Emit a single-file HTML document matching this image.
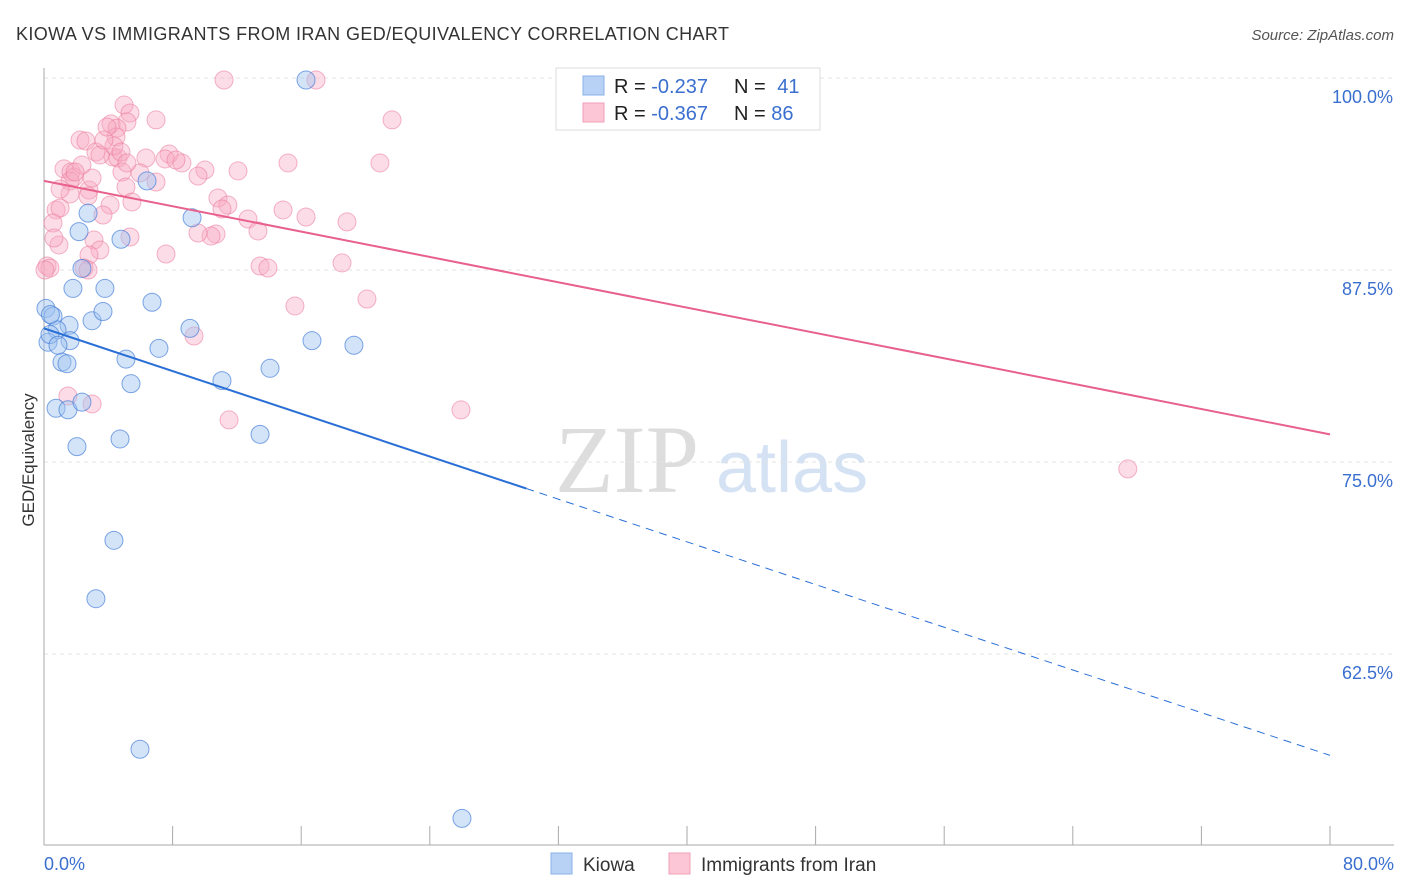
<!DOCTYPE html>
<html><head><meta charset="utf-8"><style>
body{margin:0;background:#fff;font-family:"Liberation Sans",sans-serif;}
#wrap{position:relative;width:1406px;height:892px;overflow:hidden;}
</style></head><body>
<div id="wrap">
<svg id="svg" width="1406" height="892" xmlns="http://www.w3.org/2000/svg">
<text x="16" y="40" font-size="18" fill="#333" textLength="713" lengthAdjust="spacing">KIOWA VS IMMIGRANTS FROM IRAN GED/EQUIVALENCY CORRELATION CHART</text>
<text x="1394" y="40" font-size="15" fill="#555" font-style="italic" text-anchor="end">Source: ZipAtlas.com</text>
<text x="34" y="460" font-size="17" fill="#333" text-anchor="middle" transform="rotate(-90 34 460)">GED/Equivalency</text>
<text x="555" y="492" font-size="96" fill="#ddd" font-family="Liberation Serif,serif">ZIP</text>
<text x="716" y="492" font-size="72" fill="#d4e2f4">atlas</text>
<g id="grid"></g><g id="pts"></g><g id="lines"></g>
<g>
<rect x="556" y="68" width="264" height="62" fill="#fff" stroke="#ddd"/>
<rect x="583" y="76" width="21" height="19" fill="#b8d2f5" stroke="#8ab2e8"/>
<rect x="583" y="103" width="21" height="19" fill="#fcc6d6" stroke="#f0a0b8"/>
<text x="614" y="93" font-size="20" fill="#222">R = <tspan fill="#3a6fd0">-0.237</tspan></text>
<text x="734" y="93" font-size="20" fill="#222">N = <tspan fill="#3a6fd0" dx="6">41</tspan></text>
<text x="614" y="120" font-size="20" fill="#222">R = <tspan fill="#3a6fd0">-0.367</tspan></text>
<text x="734" y="120" font-size="20" fill="#222">N = <tspan fill="#3a6fd0">86</tspan></text>
</g>
<g>
<rect x="551" y="853" width="21" height="21" fill="#b8d2f5" stroke="#8ab2e8"/>
<text x="583" y="871" font-size="19" fill="#333">Kiowa</text>
<rect x="669" y="853" width="21" height="21" fill="#fcc6d6" stroke="#f0a0b8"/>
<text x="701" y="871" font-size="19" fill="#333">Immigrants from Iran</text>
</g>
<text x="44" y="870" font-size="18" fill="#3a6fd0">0.0%</text>
<text x="1394" y="870" font-size="18" fill="#3a6fd0" text-anchor="end">80.0%</text>
</svg></div>
<script>
const yTicks=[100,87.5,75,62.5];
const yTickLabels=["100.0%","87.5%","75.0%","62.5%"];
const xTicks=[0,8,16,24,32,40,48,56,64,72,80];
const kiowaX=[16.3,6.41,2.74,9.21,2.18,4.79,2.36,1.8,3.79,6.72,0.12,0.56,2.99,3.67,1.56,0.81,9.08,16.67,0.25,1.62,7.15,19.28,1.12,1.43,5.1,14.06,5.41,11.07,0.75,1.49,2.36,13.44,4.73,2.05,4.35,3.23,5.97,26.0,0.37,0.87,0.4];
const kiowaY=[99.87,93.3,91.2,90.9,90.0,89.5,87.6,86.3,86.3,85.4,85.0,84.5,84.2,84.8,83.9,83.6,83.7,82.9,82.8,82.9,82.4,82.6,81.5,81.4,81.7,81.1,80.1,80.3,78.5,78.4,78.9,76.8,76.5,76.0,69.9,66.1,56.3,51.8,83.3,82.6,84.6];
const iranX=[11.2,16.92,4.98,5.35,6.97,21.65,4.17,5.16,4.54,2.24,2.61,4.48,3.23,7.78,15.18,20.9,4.29,3.48,4.6,6.34,7.53,8.58,10.01,12.07,1.24,1.68,1.87,1.62,4.85,6.97,9.58,5.1,2.8,5.47,4.11,2.74,1.62,10.82,11.44,14.87,16.3,0.75,1.0,3.67,0.56,12.69,13.31,18.85,5.35,10.7,10.39,3.11,0.93,0.62,3.48,2.8,7.59,13.44,13.93,18.54,0.19,0.37,2.49,2.74,15.61,20.09,9.33,1.49,2.99,11.51,25.94,67.42,8.21,5.97,4.35,3.73,11.07,2.99,1.0,2.36,1.93,4.79,5.16,3.92,9.58,0.06];
const iranY=[99.87,99.87,98.24,97.72,97.27,97.27,97.01,97.14,96.74,95.96,95.9,96.16,95.18,95.05,94.47,94.47,94.86,94.99,94.79,94.79,94.73,94.47,94.01,93.95,94.08,93.88,93.55,93.29,93.88,93.23,93.62,92.9,92.71,91.93,91.73,92.32,92.45,92.19,91.73,91.41,90.95,91.41,91.54,91.08,90.56,90.82,90.04,90.63,89.65,89.84,89.71,89.45,89.13,89.58,88.8,88.48,88.54,87.76,87.63,87.96,87.76,87.63,87.63,87.5,85.16,85.61,83.2,79.3,78.78,77.74,78.39,74.55,94.66,93.82,95.57,95.96,91.47,93.49,92.77,94.34,93.88,95.18,94.47,96.81,89.91,87.5];
const kiowaTrend=[83.7,55.9];
const iranTrend=[93.3,76.8];
const kiowaSolidEnd=30;
const NS="http://www.w3.org/2000/svg";
const X=v=>44+v/80*1286;
const Y=v=>78+(100-v)*15.36;
function mk(t,a,p){const e=document.createElementNS(NS,t);for(const k in a)e.setAttribute(k,a[k]);p.appendChild(e);return e;}
const grid=document.getElementById('grid'),pts=document.getElementById('pts'),lines=document.getElementById('lines');
yTicks.forEach((v,i)=>{
 const l=mk('line',{x1:44,x2:1394,y1:Y(v),y2:Y(v),stroke:'#e3e3e3','stroke-dasharray':'4,4'},grid);
 
 
 const t=mk('text',{x:1393,y:Y(v)+25,'font-size':18,fill:'#3a6fd0','text-anchor':'end'},grid);
 t.textContent=yTickLabels[i];
 
 
});
const ax=mk('line',{x1:44,x2:44,y1:68,y2:845,stroke:'#aaa'},grid);


const bx=mk('line',{x1:44,x2:1394,y1:845,y2:845,stroke:'#aaa'},grid);


xTicks.forEach(v=>{
 const t=mk('line',{x1:X(v),x2:X(v),y1:826,y2:845,stroke:'#aaa'},grid);
 
 
});
iranX.forEach((x,i)=>{
 const c=mk('circle',{cx:X(x),cy:Y(iranY[i]),r:9,fill:'rgba(248,170,195,0.4)',stroke:'rgba(235,120,155,0.55)','stroke-width':1},pts);
 
 
});
kiowaX.forEach((x,i)=>{
 const c=mk('circle',{cx:X(x),cy:Y(kiowaY[i]),r:9,fill:'rgba(160,195,240,0.45)',stroke:'rgba(60,120,215,0.65)','stroke-width':1},pts);
 
 
});
const ky=v=>kiowaTrend[0]+(kiowaTrend[1]-kiowaTrend[0])*v/80;
const l1=mk('line',{x1:X(0),y1:Y(iranTrend[0]),x2:X(80),y2:Y(iranTrend[1]),stroke:'#e8608c','stroke-width':2},lines);


const l2=mk('line',{x1:X(0),y1:Y(ky(0)),x2:X(kiowaSolidEnd),y2:Y(ky(kiowaSolidEnd)),stroke:'#2a6fd6','stroke-width':2},lines);


const l3=mk('line',{x1:X(kiowaSolidEnd),y1:Y(ky(kiowaSolidEnd)),x2:X(80),y2:Y(ky(80)),stroke:'#2a6fd6','stroke-width':1,'stroke-dasharray':'8,6'},lines);


</script>
</body></html>
